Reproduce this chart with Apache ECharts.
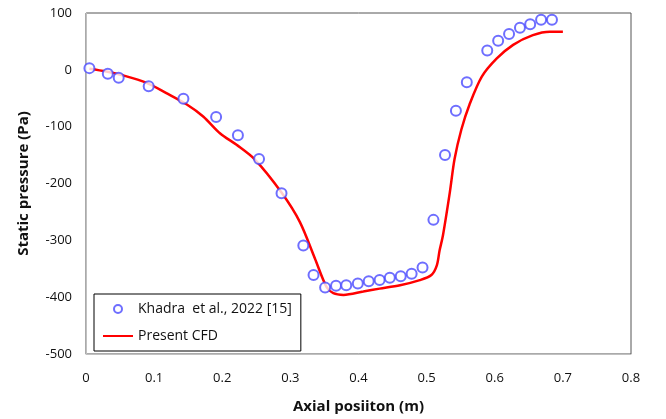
<!DOCTYPE html>
<html>
<head>
<meta charset="utf-8">
<script src="https://cdn.jsdelivr.net/npm/echarts@6/dist/echarts.min.js"></script>
<style>
  html, body { margin: 0; padding: 0; background: #fff; }
  #chart { width: 666px; height: 419px; }
</style>
</head>
<body>
<div id="chart"></div>
<script>
// measured points (Khadra et al., 2022)
const expX = [0.005, 0.032, 0.048, 0.092, 0.143, 0.191, 0.223, 0.254, 0.287, 0.319, 0.334,
  0.351, 0.367, 0.382, 0.399, 0.415, 0.431, 0.446, 0.462, 0.478, 0.494,
  0.510, 0.527, 0.543, 0.559, 0.589, 0.605, 0.621, 0.637, 0.652, 0.668, 0.684];
const expY = [3, -7, -14, -29, -51, -83, -115, -157, -217, -309, -361,
  -383, -380, -379, -376, -372, -370, -366, -363, -359, -348,
  -264, -150, -72, -22, 34, 51, 63, 74, 80, 88, 88];

// present CFD curve
const cfdX = [0.005, 0.03, 0.055, 0.089, 0.118, 0.148, 0.172, 0.197, 0.221, 0.248, 0.287,
  0.314, 0.336, 0.353, 0.363, 0.378, 0.407, 0.431, 0.461, 0.490, 0.507, 0.515, 0.519,
  0.524, 0.534, 0.541, 0.551, 0.563, 0.581, 0.603, 0.627, 0.656, 0.681, 0.700];
const cfdY = [2, -3, -10, -23, -41, -61, -82, -112, -132, -158, -216,
  -268, -332, -382, -393, -396, -390, -385, -379, -370, -361, -344, -318,
  -291, -216, -157, -105, -61, -12, 20, 44, 61, 67, 67];

const xTicks = [0, 0.1, 0.2, 0.3, 0.4, 0.5, 0.6, 0.7, 0.8];
const yTicks = [-500, -400, -300, -200, -100, 0, 100];

const FONT = 'Open Sans';

const chart = echarts.init(document.getElementById('chart'));

chart.setOption({
  backgroundColor: '#ffffff',
  animation: false,
  grid: {
    left: 86, right: 35, top: 13, bottom: 64,
    show: true,
    borderColor: '#555555',
    borderWidth: 1
  },
  legend: {
    orient: 'vertical',
    left: 94,
    top: 294,
    backgroundColor: '#ffffff',
    borderColor: '#000000',
    borderWidth: 1,
    padding: [8, 9, 8, 8],
    itemGap: 13,
    itemWidth: 30,
    itemHeight: 8,
    textStyle: { fontFamily: FONT, fontSize: 14, color: '#111' },
    data: [
      { name: 'Khadra  et al., 2022 [15]', icon: 'emptyCircle' },
      { name: 'Present CFD', itemStyle: { opacity: 0 } }
    ]
  },
  xAxis: {
    type: 'value',
    min: xTicks[0],
    max: xTicks[xTicks.length - 1],
    interval: 0.1,
    name: 'Axial posiiton (m)',
    nameLocation: 'middle',
    nameGap: 45,
    nameTextStyle: { fontFamily: FONT, fontSize: 15, fontWeight: 'bold', color: '#111' },
    axisLine: { onZero: false, lineStyle: { color: '#c0c0c0', width: 1 } },
    axisTick: { show: false },
    splitLine: { show: false },
    axisLabel: { fontFamily: FONT, fontSize: 13, color: '#111', margin: 18 }
  },
  yAxis: {
    type: 'value',
    min: yTicks[0],
    max: yTicks[yTicks.length - 1],
    interval: 100,
    name: 'Static pressure (Pa)',
    nameLocation: 'middle',
    nameGap: 55,
    nameTextStyle: { fontFamily: FONT, fontSize: 15, fontWeight: 'bold', color: '#111' },
    axisLine: { show: true, onZero: false, lineStyle: { color: '#c0c0c0', width: 1 } },
    axisTick: { show: false },
    splitLine: { show: false },
    axisLabel: { fontFamily: FONT, fontSize: 13, color: '#111', margin: 14 }
  },
  series: [
    {
      name: 'Khadra  et al., 2022 [15]',
      type: 'scatter',
      symbol: 'emptyCircle',
      symbolSize: 10,
      itemStyle: { color: '#4a4aff', borderColor: '#4a4aff', borderWidth: 1.4 },
      data: expX.map((x, i) => [x, expY[i]]),
      z: 3
    },
    {
      name: 'Present CFD',
      type: 'line',
      smooth: 0.3,
      symbol: 'none',
      lineStyle: { color: '#ff0000', width: 2.5 },
      itemStyle: { color: '#ff0000' },
      data: cfdX.map((x, i) => [x, cfdY[i]]),
      z: 2
    }
  ]
});
</script>
</body>
</html>
